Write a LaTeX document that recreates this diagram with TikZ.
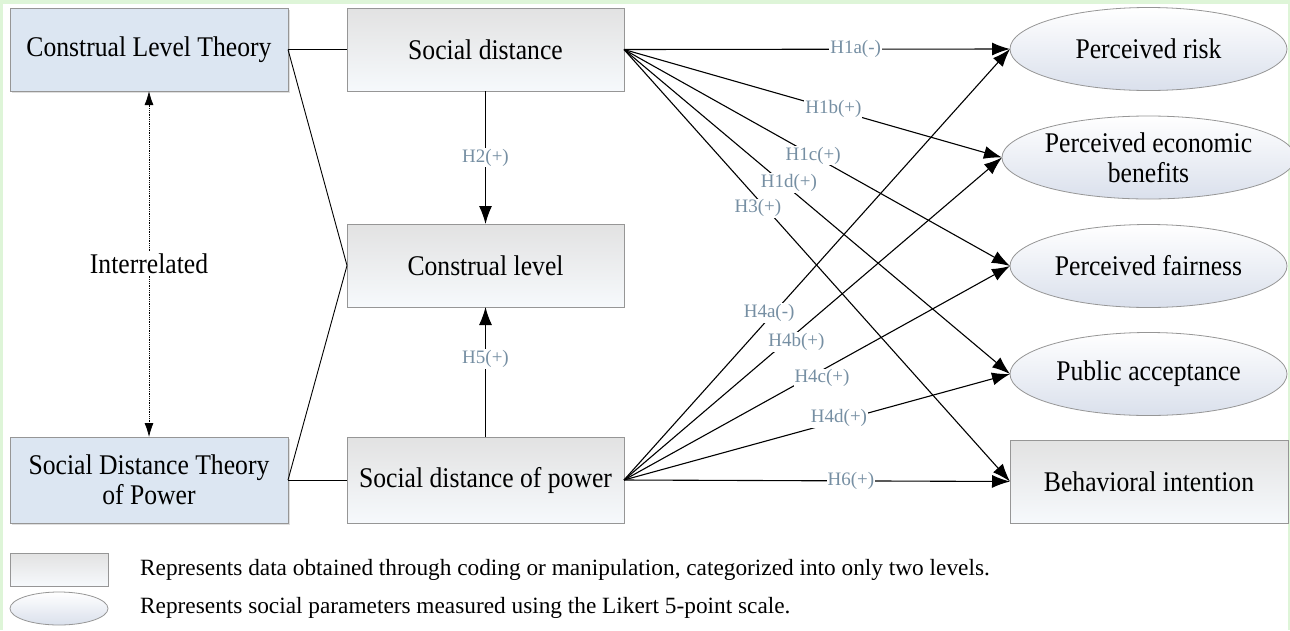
\documentclass[tikz,border=0pt]{standalone}
\usepackage{fontspec}
\setmainfont[FakeStretch=0.9]{Liberation Serif}
\newfontfamily\lblfont{Liberation Serif}
\usetikzlibrary{arrows.meta,shapes.geometric,shadows}
\definecolor{bggreen}{RGB}{222,245,216}
\definecolor{theoryblue}{RGB}{220,230,242}
\definecolor{bordergray}{RGB}{150,150,150}
\definecolor{lblcol}{RGB}{118,143,163}
\definecolor{boxtop}{RGB}{226,226,226}
\definecolor{boxbot}{RGB}{246,249,252}
\definecolor{elltop}{RGB}{255,255,255}
\definecolor{ellbot}{RGB}{218,224,236}
\tikzset{
  base/.style={inner sep=0pt, outer sep=0pt, align=center, font=\fontsize{28.5}{30}\selectfont, text=black},
  theory/.style={base, rectangle, draw=bordergray, line width=1pt, fill=theoryblue, minimum width=278pt, minimum height=83pt,
     drop shadow={shadow xshift=1.5pt, shadow yshift=-2pt, opacity=0.25}},
  varbox/.style={base, rectangle, draw=bordergray, line width=1pt, top color=boxtop, bottom color=boxbot, minimum width=277pt, minimum height=83pt},
  varell/.style={base, ellipse, draw=bordergray, line width=0.8pt, top color=elltop, bottom color=ellbot, minimum width=277pt, minimum height=83pt},
  conn/.style={draw=black, line width=1.1pt},
  arr/.style={conn, -{Latex[length=18pt,width=13pt]}},
  hl/.style={fill=white, inner sep=1pt, text=lblcol, font=\lblfont\fontsize{19}{19}\selectfont},
  legtext/.style={anchor=west, inner sep=0pt, font=\lblfont\fontsize{23.3}{23.3}\selectfont},
}
\begin{document}
\begin{tikzpicture}[x=1pt,y=-1pt]
\fill[bggreen] (0,0) rectangle (1290,630);
\fill[white] (3,4) rectangle (1288,630);
\useasboundingbox (0,0) rectangle (1290,630);

% left theory boxes
\node[theory] (clt) at (149,49.5) {Construal Level Theory};
\node[theory, minimum height=86pt] (sdtp) at (149,480) {Social Distance Theory\\of Power};

% middle boxes
\node[varbox] (sd) at (485.5,49.5) {Social distance};
\node[varbox] (cl) at (485.5,265.5) {Construal level};
\node[varbox, minimum height=86pt] (sdp) at (485.5,480) {Social distance of power};

% right outcomes
\node[varell] (pr) at (1148.5,49) {Perceived risk};
\node[varell] (peb) at (1148.5,157.5) {Perceived economic\\benefits};
\node[varell] (pf) at (1148.5,266) {Perceived fairness};
\node[varell] (pa) at (1148.5,374) {Public acceptance};
\node[varbox, minimum width=278pt] (bi) at (1149,481.5) {Behavioral intention};

% theory connections
\draw[conn, line width=0.9pt] (clt.east) -- (sd.west);
\draw[conn, line width=0.9pt] (clt.east) -- (cl.west);
\draw[conn, line width=0.9pt] (sdtp.east) -- (sdp.west);
\draw[conn, line width=0.9pt] (sdtp.east) -- (cl.west);
\draw[black, line width=0.8pt, densely dotted, {Latex[length=14pt,width=9pt]}-{Latex[length=14pt,width=9pt]}]
  (clt.south) -- node[fill=white, inner sep=2pt, font=\fontsize{28.5}{28.5}\selectfont] {Interrelated} (sdtp.north);

% vertical hypotheses
\draw[arr] (sd.south) -- node[hl] {H2(+)} (cl.north);
\draw[arr] (sdp.north) -- node[hl, pos=0.6] {H5(+)} (cl.south);

% social distance paths
\draw[arr] (sd.east) -- node[hl, pos=0.60] {H1a(-)} (pr.west);
\draw[arr] (sd.east) -- node[hl, pos=0.554] {H1b(+)} (peb.west);
\draw[arr] (sd.east) -- node[hl, pos=0.49] {H1c(+)} (pf.west);
\draw[arr] (sd.east) -- node[hl, pos=0.427, yshift=5pt] {H1d(+)} (pa.west);
\draw[arr] (sd.east) -- node[hl, pos=0.347, yshift=-9pt] {H3(+)} (bi.west);

% social distance of power paths
\draw[arr] (sdp.east) -- node[hl, pos=0.376, yshift=5pt] {H4a(-)} (pr.west);
\draw[arr] (sdp.east) -- node[hl, pos=0.456, yshift=-9pt] {H4b(+)} (peb.west);
\draw[arr] (sdp.east) -- node[hl, pos=0.513, yshift=-8pt] {H4c(+)} (pf.west);
\draw[arr] (sdp.east) -- node[hl, pos=0.557, yshift=3pt] {H4d(+)} (pa.west);
\draw[arr] (sdp.east) -- node[hl, pos=0.588] {H6(+)} (bi.west);

% legend
\node[varbox, minimum width=98pt, minimum height=33pt] (legbox) at (59,569.5) {};
\node[varell, minimum width=98pt, minimum height=33pt] (legell) at (59,608.5) {};
\node[legtext] (legt1) at (140,570) {Represents data obtained through coding or manipulation, categorized into only two levels.};
\node[legtext] (legt2) at (140,608) {Represents social parameters measured using the Likert 5-point scale.};
\end{tikzpicture}
\end{document}
